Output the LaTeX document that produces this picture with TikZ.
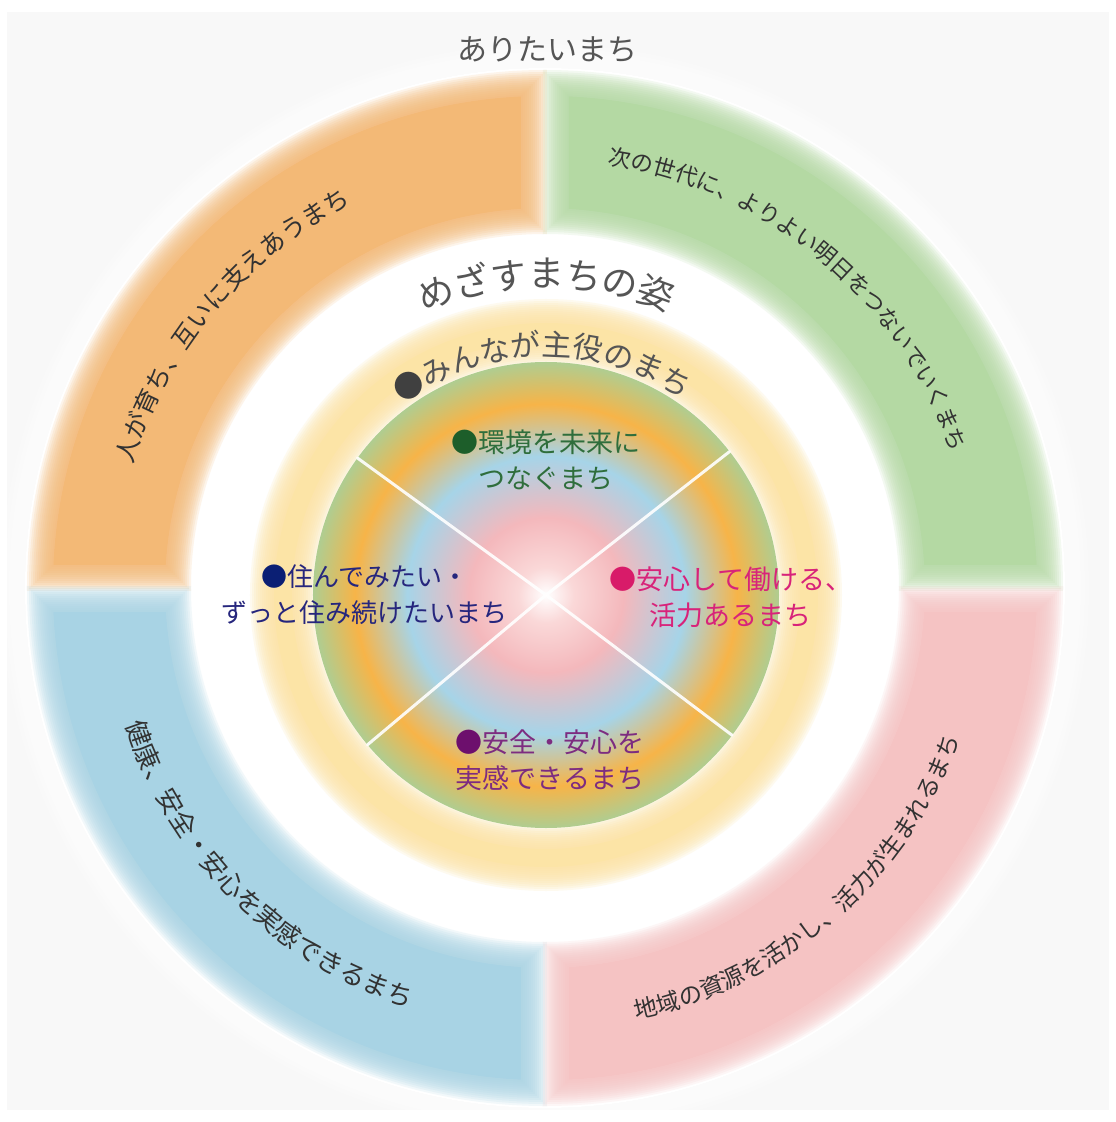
\documentclass[tikz,border=0pt]{standalone}
\usepackage{fontspec}
\setmainfont{Noto Sans CJK JP}
\usetikzlibrary{calc,decorations.text,positioning}
\definecolor{bggray}{RGB}{248,248,248}
\definecolor{bandorange}{RGB}{243,185,118}
\definecolor{bandgreen}{RGB}{180,217,163}
\definecolor{bandblue}{RGB}{168,211,228}
\definecolor{bandpink}{RGB}{245,195,195}
\definecolor{ringyellow}{RGB}{252,228,166}
\definecolor{pinklt}{RGB}{250,216,216}
\definecolor{pinkc}{RGB}{244,184,188}
\definecolor{bluec}{RGB}{166,212,232}
\definecolor{orangec}{RGB}{247,180,72}
\definecolor{greenc}{RGB}{172,206,148}
\definecolor{txtgray}{RGB}{85,85,85}
\definecolor{txtdark}{RGB}{50,50,50}
\definecolor{dotgray}{RGB}{64,64,64}
\definecolor{dotgreen}{RGB}{29,94,42}
\definecolor{txtgreen}{RGB}{47,110,60}
\definecolor{dotnavy}{RGB}{11,31,116}
\definecolor{txtnavy}{RGB}{38,38,125}
\definecolor{dotmag}{RGB}{216,27,105}
\definecolor{txtmag}{RGB}{216,35,122}
\definecolor{dotpur}{RGB}{109,15,109}
\definecolor{txtpur}{RGB}{125,44,128}
\pgfdeclareradialshading{coreglow}{\pgfpoint{0bp}{0bp}}{color(0bp)=(white); color(3bp)=(pinklt); color(8.3bp)=(pinkc); color(14.9bp)=(bluec); color(20.5bp)=(orangec); color(25.2bp)=(greenc); color(30bp)=(greenc); color(50bp)=(greenc)}

\begin{document}
\begin{tikzpicture}[x=1pt,y=1pt,line join=round,line cap=round]
\useasboundingbox (-546,-527) rectangle (570,595);
\fill[bggray] (-539,583) rectangle (563,-515);
\coordinate (O) at (0,0);
\coordinate (Q) at (-1,7);
\fill[white] (Q) circle[radius=520];
\foreach \d in {4,8,...,24}{\fill[white,opacity=0.2] (Q) circle[radius=520+\d];}
\begin{scope}[shift={(Q)}]
\foreach \c/\sx/\sy in {bandorange/-1/1,bandgreen/1/1,bandblue/-1/-1,bandpink/1/-1}{
  \foreach \d/\o in {-18/1,-16/0.15,-14/0.15,-12/0.15,-10/0.15,-8/0.15,-6/0.15,-4/0.15,-2/0.15,0/0.15,2/0.15,4/0.15,6/0.15,8/0.15}{
    \begin{scope}
    \clip ({\sx*(6-\d)},{\sy*(6-\d)}) rectangle ({\sx*600},{\sy*600});
    \fill[\c,opacity=\o,even odd rule] (0,0) circle[radius=510+\d] (0,0) circle[radius=362-\d];
    \end{scope}
  }
}
\path[decorate,decoration={text along path,text align=center,text={|\fontsize{25}{25}\selectfont\color{txtdark}|人が育ち、互いに支えあうまち}}] (185:430) arc (185:95:430);
\path[decorate,decoration={text along path,text align=center,text={|\fontsize{22.5}{22.5}\selectfont\color{txtdark}|次の世代に、よりよい明日をつないでいくまち}}] (95:428) arc (95:5:428);
\path[decorate,decoration={text along path,text align=center,text={|\fontsize{26}{26}\selectfont\color{txtdark}|健康、安全・安心を実感できるまち}}] (180:441) arc (180:270:441);
\path[decorate,decoration={text along path,text align=center,text={|\fontsize{23.5}{23.5}\selectfont\color{txtdark}|地域の資源を活かし、活力が生まれるまち}}] (266:441) arc (266:356:441);
\end{scope}
\foreach \d in {-14,-12,...,8}{
  \fill[ringyellow,opacity=0.17,even odd rule] (O) circle[radius=288+\d] (O) circle[radius=238-\d];
}
\fill[ringyellow,even odd rule] (O) circle[radius=272] (O) circle[radius=254];
\shade[shading=coreglow] (O) circle[radius=233];
\foreach \a in {144,38,220,323}{\draw[white,line width=3pt,opacity=0.9] (O) -- (\a:233);}
\node[text=txtgray,font=\fontsize{30}{30}\selectfont] (aritai) at (2,545) {ありたいまち};
\path[decorate,decoration={text along path,text align=center,text={|\fontsize{36}{36}\selectfont\color{txtgray}|めざすまちの姿}}] (135:308) arc (135:45:308);
\path[decorate,decoration={text along path,text align=center,text={|\fontsize{30}{30}\selectfont\color{dotgray}|●|\fontsize{30}{30}\selectfont\color{txtgray}|みんなが主役のまち}}] (146:239) arc (146:36:239);
\node[align=center,text=txtgreen,font=\fontsize{27}{36}\selectfont] (kankyo) at (0,135) {{\color{dotgreen}●}環境を未来に\\つなぐまち};
\node[align=center,text=txtnavy,font=\fontsize{26}{36}\selectfont] (sumitai) at (-181,0) {{\color{dotnavy}●}住んでみたい・\\ずっと住み続けたいまち};
\node[align=center,text=txtmag,font=\fontsize{27}{36}\selectfont] (hataraku) at (185,-2) {{\color{dotmag}●}安心して働ける、\\活力あるまち};
\node[align=center,text=txtpur,font=\fontsize{27}{36}\selectfont] (anzen) at (4,-165) {{\color{dotpur}●}安全・安心を\\実感できるまち};
\end{tikzpicture}
\end{document}
